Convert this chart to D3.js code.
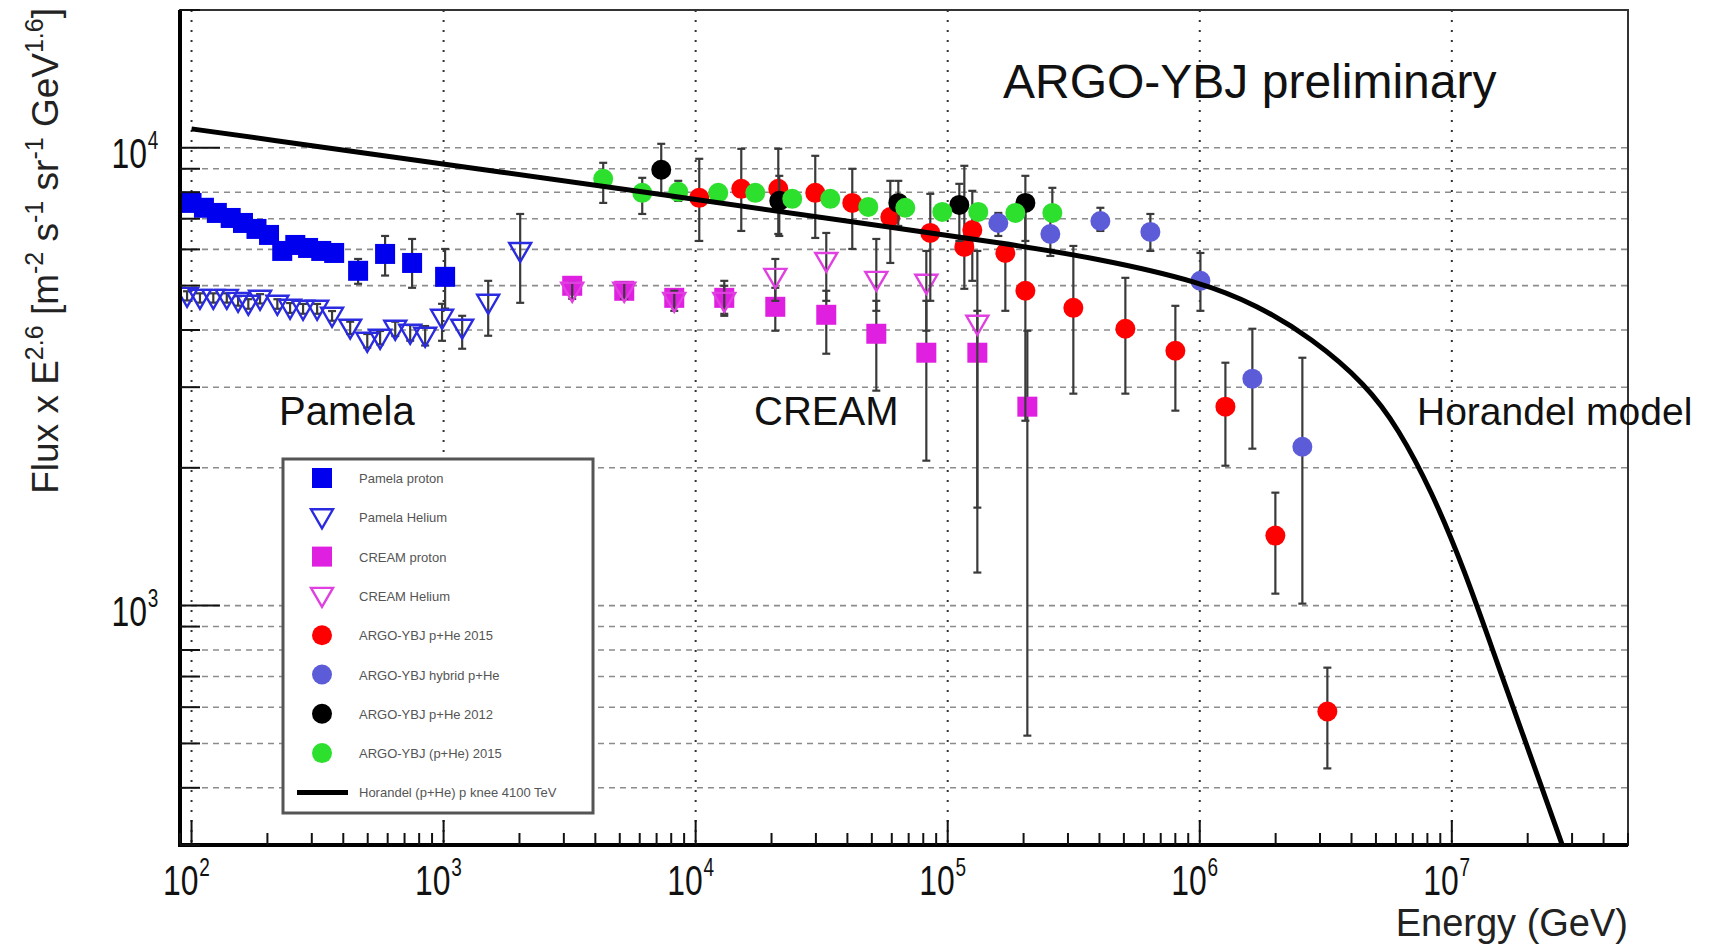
<!DOCTYPE html>
<html>
<head>
<meta charset="utf-8">
<script src="https://cdn.jsdelivr.net/npm/d3@7"></script>
<style>
  body { margin: 0; background: #fff; }
  text { font-family: "Liberation Sans", Arial, Helvetica, sans-serif; }
</style>
</head>
<body>
<script>
// Proton + helium flux x E^2.6 vs energy, ARGO-YBJ preliminary

// ---- data ----
// Pamela proton
var pamelaProtonE  = [100, 112, 126, 143, 160, 181, 203, 229, 258, 290, 327, 368, 458, 586, 750, 1014];
var pamelaProtonF  = [7580, 7396, 7207, 7027, 6853, 6650, 6452, 5953, 6135, 6043, 5953, 5893, 5387, 5864, 5604, 5226];
var pamelaProtonLo = [7500, 7320, 7130, 6950, 6780, 6580, 6380, 5890, 6070, 5980, 5880, 5820, 5046, 5260, 4946, 4455];
var pamelaProtonHi = [7660, 7470, 7280, 7100, 6930, 6720, 6520, 6020, 6200, 6110, 6030, 5970, 5718, 6419, 6323, 6013];

// Pamela helium
var pamelaHeliumE  = [96, 108, 122, 138, 153, 168, 187, 219, 246, 277, 315, 361, 426, 498, 560, 643, 737, 845, 986, 1185, 1503, 2013];
var pamelaHeliumF  = [4750, 4702, 4702, 4702, 4632, 4563, 4679, 4563, 4472, 4450, 4450, 4296, 4046, 3789, 3847, 4025, 3945, 3886, 4253, 4046, 4586, 5953];
var pamelaHeliumLo = [4640, 4590, 4590, 4590, 4520, 4450, 4570, 4450, 4360, 4340, 4340, 4190, 3920, 3660, 3720, 3880, 3790, 3700, 3789, 3640, 3886, 4586];
var pamelaHeliumHi = [4860, 4810, 4810, 4810, 4740, 4670, 4790, 4670, 4580, 4560, 4560, 4400, 4170, 3920, 3980, 4170, 4100, 4080, 4563, 4296, 5122, 7170];

// CREAM proton
var creamProtonE  = [3238, 5208, 8225, 12988, 20700, 32980, 52090, 82260, 131100, 207000];
var creamProtonF  = [4996, 4872, 4702, 4702, 4495, 4318, 3925, 3568, 3568, 2720];
var creamProtonLo = [4823, 4702, 4517, 4339, 3985, 3550, 2948, 2073, 1181, 520];
var creamProtonHi = [5122, 5046, 4872, 4996, 4946, 4872, 4632, 4632, 4405, 3985];

// CREAM helium
var creamHeliumE  = [3238, 5208, 8225, 12988, 20700, 32980, 52090, 82260, 131100];
var creamHeliumF  = [4872, 4872, 4632, 4632, 5226, 5661, 5148, 5071, 4127];
var creamHeliumLo = [4679, 4679, 4405, 4296, 4632, 4632, 4405, 3985, 1637];
var creamHeliumHi = [5071, 5071, 4872, 5122, 5718, 6517, 6323, 5953, 5953];

// ARGO-YBJ p+He 2015 (red)
var argoRedE  = [10335, 15170, 21275, 29822, 41820, 59190, 85290, 116400, 125200, 169300, 203300, 315100, 506800, 800200, 1264000, 1995000, 3208000];
var argoRedF  = [7775, 8135, 8135, 7973, 7580, 7062, 6517, 6074, 6616, 5893, 4872, 4472, 4025, 3604, 2720, 1422, 587];
var argoRedLo = [6260, 6583, 6484, 6355, 6013, 5604, 4632, 4921, 5122, 4405, 2534, 2904, 2904, 2666, 2021, 1062, 441];
var argoRedHi = [9462, 9950, 9950, 9606, 8999, 8470, 7933, 9135, 8054, 6166, 7280, 6105, 5200, 4517, 3393, 1765, 732];

// ARGO-YBJ hybrid p+He (violet)
var argoHybridE  = [158800, 255400, 403300, 636800, 1006000, 1617000, 2553000];
var argoHybridF  = [6853, 6484, 6922, 6550, 5122, 3131, 2224];
var argoHybridLo = [6419, 5805, 6583, 5953, 4405, 2202, 1010];
var argoHybridHi = [7207, 7280, 7396, 7170, 5893, 4025, 3479];

// ARGO-YBJ p+He 2012 (black)
var argoBlackE  = [7303, 21470, 63680, 111200, 203300];
var argoBlackF  = [8954, 7658, 7580, 7504, 7580];
var argoBlackLo = [7933, 6419, 6751, 6260, 6260];
var argoBlackHi = [10203, 8686, 8470, 8343, 8686];

// ARGO-YBJ (p+He) 2015 (green)
var argoGreenE  = [4298, 6139, 8531, 12292, 17239, 24167, 34200, 48400, 67880, 95170, 132200, 185500, 260100];
var argoGreenF  = [8555, 7973, 8013, 7973, 7973, 7736, 7736, 7428, 7396, 7243, 7243, 7207, 7207];
var argoGreenLo = [7580, 7170, 7658, 7696, 7696, 7470, 7470, 7170, 7140, 6990, 6990, 6960, 6960];
var argoGreenHi = [9274, 8599, 8470, 8260, 8260, 8010, 8010, 7700, 7660, 7500, 7500, 7460, 8177];

// Horandel model curve, points picked along the drawn line
var horandelE = [100, 10430, 64850, 161700, 403300, 1006000, 1677000, 2773000, 4584000, 6141000, 8300000, 11220000, 15170000, 20510000, 27480000];
var horandelF = [11000, 7700, 6655, 6204, 5723, 5097, 4541, 3847, 3037, 2435, 1783, 1198, 747, 470, 299];

var xDecades = [2, 3, 4, 5, 6, 7];
var yDecades = [3, 4];

var legendLabels = ["Pamela proton", "Pamela Helium", "CREAM proton", "CREAM Helium",
    "ARGO-YBJ p+He 2015", "ARGO-YBJ hybrid p+He", "ARGO-YBJ p+He 2012", "ARGO-YBJ (p+He) 2015",
    "Horandel (p+He) p knee 4100 TeV"];

// ---- layout ----
var W = 1713, H = 944;
var frame = { left: 180, right: 1628, top: 10, bottom: 845 };

var svg = d3.select("body").append("svg")
    .attr("width", W)
    .attr("height", H);

svg.append("rect").attr("width", W).attr("height", H).attr("fill", "#fff");

var x = d3.scaleLog().domain([90, 5e7]).range([frame.left, frame.right]);
var y = d3.scaleLog().domain([300, 20000]).range([frame.bottom, frame.top]);

svg.append("clipPath").attr("id", "clip")
    .append("rect")
    .attr("x", frame.left).attr("y", frame.top)
    .attr("width", frame.right - frame.left)
    .attr("height", frame.bottom - frame.top);

// minor ticks for log axes (2..9 in each decade)
function minorValues(scale) {
    var d = scale.domain(), out = [];
    for (var e = Math.floor(Math.log10(d[0])); e <= Math.ceil(Math.log10(d[1])); e++) {
        for (var m = 1; m < 10; m++) {
            var v = m * Math.pow(10, e);
            if (v >= d[0] * 0.999 && v <= d[1] * 1.001) out.push({ v: v, major: m === 1 });
        }
    }
    return out;
}

var grid = svg.append("g");

// horizontal dashed grid at every tick
grid.selectAll(".hgrid")
    .data(minorValues(y))
    .enter().append("line")
    .attr("x1", frame.left).attr("x2", frame.right)
    .attr("y1", function(d) { return y(d.v); })
    .attr("y2", function(d) { return y(d.v); })
    .attr("stroke", "#8c8c8c")
    .attr("stroke-width", 1.6)
    .attr("stroke-dasharray", "6,5");

// vertical dotted grid at decades
grid.selectAll(".vgrid")
    .data(xDecades)
    .enter().append("line")
    .attr("x1", function(d) { return x(Math.pow(10, d)); })
    .attr("x2", function(d) { return x(Math.pow(10, d)); })
    .attr("y1", frame.top).attr("y2", frame.bottom)
    .attr("stroke", "#333")
    .attr("stroke-width", 2)
    .attr("stroke-dasharray", "2,8");

// ---- markers ----
var plot = svg.append("g").attr("clip-path", "url(#clip)");

function markerShape(g, type, color) {
    if (type === "square") {
        g.append("rect").attr("x", -10).attr("y", -10).attr("width", 20).attr("height", 20)
            .attr("fill", color);
    } else if (type === "triangle") {
        g.append("path").attr("d", "M-11,-8L11,-8L0,11Z")
            .attr("fill", "none").attr("stroke", color).attr("stroke-width", 2.4);
    } else {
        g.append("circle").attr("r", 10).attr("fill", color);
    }
}

function drawSeries(E, F, lo, hi, type, color) {
    var rows = E.map(function(e, i) { return { e: e, f: F[i], lo: lo[i], hi: hi[i] }; });
    var g = plot.append("g");

    // error bars with small caps
    var bars = g.selectAll(".err").data(rows).enter().append("g")
        .attr("stroke", "#3a3a3a").attr("stroke-width", 2.2);
    bars.append("line")
        .attr("x1", function(d) { return x(d.e); }).attr("x2", function(d) { return x(d.e); })
        .attr("y1", function(d) { return y(d.hi); }).attr("y2", function(d) { return y(d.lo); });
    bars.append("line")
        .attr("x1", function(d) { return x(d.e) - 4; }).attr("x2", function(d) { return x(d.e) + 4; })
        .attr("y1", function(d) { return y(d.hi); }).attr("y2", function(d) { return y(d.hi); });
    bars.append("line")
        .attr("x1", function(d) { return x(d.e) - 4; }).attr("x2", function(d) { return x(d.e) + 4; })
        .attr("y1", function(d) { return y(d.lo); }).attr("y2", function(d) { return y(d.lo); });

    g.selectAll(".pt").data(rows).enter().append("g")
        .attr("transform", function(d) { return "translate(" + x(d.e) + "," + y(d.f) + ")"; })
        .each(function() { markerShape(d3.select(this), type, color); });
}

var series = [
    [pamelaProtonE, pamelaProtonF, pamelaProtonLo, pamelaProtonHi, "square", "#0000ee"],
    [pamelaHeliumE, pamelaHeliumF, pamelaHeliumLo, pamelaHeliumHi, "triangle", "#2a2ae0"],
    [creamProtonE, creamProtonF, creamProtonLo, creamProtonHi, "square", "#e020e0"],
    [creamHeliumE, creamHeliumF, creamHeliumLo, creamHeliumHi, "triangle", "#e040e0"],
    [argoRedE, argoRedF, argoRedLo, argoRedHi, "circle", "#ff0000"],
    [argoHybridE, argoHybridF, argoHybridLo, argoHybridHi, "circle", "#5c5cd8"],
    [argoBlackE, argoBlackF, argoBlackLo, argoBlackHi, "circle", "#000000"],
    [argoGreenE, argoGreenF, argoGreenLo, argoGreenHi, "circle", "#2de02d"]
];
series.forEach(function(s) { drawSeries(s[0], s[1], s[2], s[3], s[4], s[5]); });

// Horandel model line (smoothed through the picked points)
var line = d3.line()
    .x(function(d) { return x(d[0]); })
    .y(function(d) { return y(d[1]); })
    .curve(d3.curveBasis);

plot.append("path")
    .datum(horandelE.map(function(e, i) { return [e, horandelF[i]]; }))
    .attr("d", line)
    .attr("fill", "none")
    .attr("stroke", "#000")
    .attr("stroke-width", 5);

// ---- frame and ticks ----
svg.append("rect")
    .attr("x", frame.left).attr("y", frame.top)
    .attr("width", frame.right - frame.left).attr("height", frame.bottom - frame.top)
    .attr("fill", "none").attr("stroke", "#333").attr("stroke-width", 2);
svg.append("line").attr("x1", frame.left).attr("x2", frame.left)
    .attr("y1", frame.top).attr("y2", frame.bottom + 2)
    .attr("stroke", "#000").attr("stroke-width", 4);
svg.append("line").attr("x1", frame.left - 2).attr("x2", frame.right)
    .attr("y1", frame.bottom).attr("y2", frame.bottom)
    .attr("stroke", "#000").attr("stroke-width", 4);

svg.append("g").selectAll("line")
    .data(minorValues(y))
    .enter().append("line")
    .attr("x1", frame.left)
    .attr("x2", function(d) { return frame.left + (d.major ? 40 : 20); })
    .attr("y1", function(d) { return y(d.v); })
    .attr("y2", function(d) { return y(d.v); })
    .attr("stroke", "#111").attr("stroke-width", 2);

svg.append("g").selectAll("line")
    .data(minorValues(x))
    .enter().append("line")
    .attr("x1", function(d) { return x(d.v); })
    .attr("x2", function(d) { return x(d.v); })
    .attr("y1", frame.bottom)
    .attr("y2", function(d) { return frame.bottom - (d.major ? 25 : 12); })
    .attr("stroke", "#111").attr("stroke-width", 2);

// tick labels 10^n, narrow like the original
function powerLabel(px, py, n) {
    var g = svg.append("g").attr("transform", "translate(" + px + "," + py + ") scale(0.76,1)");
    g.append("text").attr("text-anchor", "end").attr("font-size", 42).attr("fill", "#111").text("10");
    g.append("text").attr("x", 1).attr("y", -19).attr("font-size", 25).attr("fill", "#111").text(n);
}
xDecades.forEach(function(n) { powerLabel(x(Math.pow(10, n)) + 7, 895, n); });
yDecades.forEach(function(n) { powerLabel(147, y(Math.pow(10, n)) + 20, n); });

// axis titles
svg.append("text")
    .attr("x", frame.right).attr("y", 936)
    .attr("text-anchor", "end").attr("font-size", 38).attr("fill", "#222")
    .text("Energy (GeV)");

var yt = svg.append("text")
    .attr("transform", "translate(58,8) rotate(-90)")
    .attr("text-anchor", "end").attr("font-size", 37).attr("fill", "#222");
[["Flux x E", 0], ["2.6", 1], [" [m", 0], ["-2", 1], [" s", 0], ["-1", 1],
 [" sr", 0], ["-1", 1], [" GeV", 0], ["1.6", 1], ["]", 0]].forEach(function(p, i, arr) {
    var prevSup = i > 0 && arr[i - 1][1] === 1;
    yt.append("tspan")
        .attr("font-size", p[1] ? 25 : 37)
        .attr("dy", p[1] ? -15 : (prevSup ? 15 : 0))
        .text(p[0]);
});

// annotations
svg.append("text").attr("x", 1003).attr("y", 98).attr("font-size", 48).attr("fill", "#111")
    .text("ARGO-YBJ preliminary");
svg.append("text").attr("x", 279).attr("y", 425).attr("font-size", 40).attr("fill", "#111").text("Pamela");
svg.append("text").attr("x", 754).attr("y", 425).attr("font-size", 40).attr("fill", "#111").text("CREAM");
svg.append("text").attr("x", 1417).attr("y", 425).attr("font-size", 39).attr("fill", "#111").text("Horandel model");

// ---- legend ----
var legend = svg.append("g");
legend.append("rect")
    .attr("x", 283).attr("y", 459).attr("width", 310).attr("height", 354)
    .attr("fill", "#fff").attr("stroke", "#555").attr("stroke-width", 3);

var legendRows = legend.selectAll(".entry")
    .data(legendLabels)
    .enter().append("g")
    .attr("transform", function(d, i) { return "translate(322," + (478 + i * 39.3) + ")"; });

legendRows.each(function(d, i) {
    var g = d3.select(this);
    if (i < series.length) {
        markerShape(g, series[i][4], series[i][5]);
    } else {
        g.append("line").attr("x1", -25).attr("x2", 26).attr("stroke", "#000").attr("stroke-width", 5);
    }
});
legendRows.append("text")
    .attr("x", 37).attr("y", 5)
    .attr("font-size", 13).attr("fill", "#555")
    .text(function(d) { return d; });
</script>
</body>
</html>
